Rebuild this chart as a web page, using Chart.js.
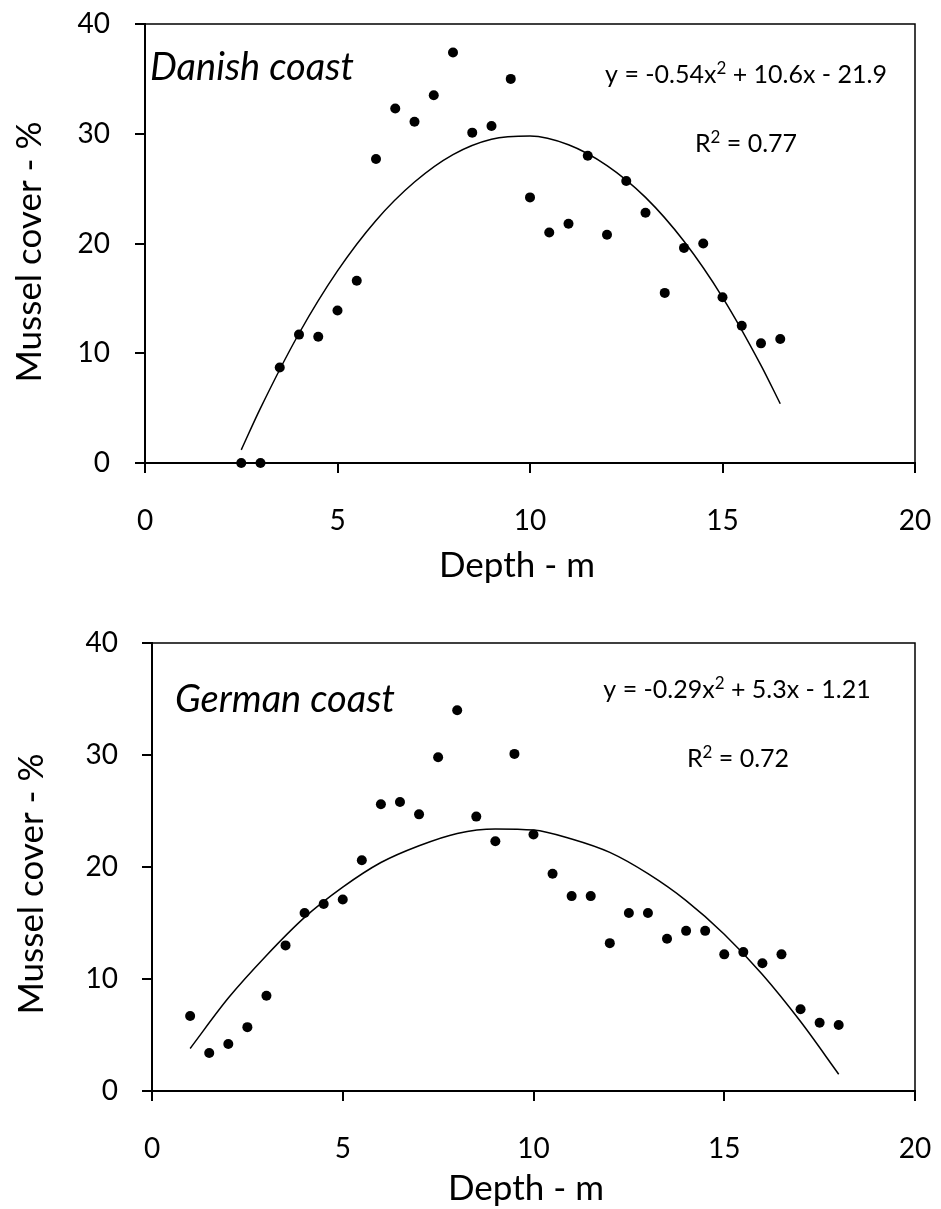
<!DOCTYPE html>
<html>
<head>
<meta charset="utf-8">
<script src="https://cdn.jsdelivr.net/npm/chart.js@4.4.1/dist/chart.umd.min.js"></script>
<style>
  html, body { margin: 0; padding: 0; background: #fff; }
  #wrap { position: relative; width: 941px; height: 1209px; }
  canvas { position: absolute; left: 0; }
  #c1 { top: 0; }
  #c2 { top: 600px; }
</style>
</head>
<body>
<div id="wrap">
  <canvas id="c1" width="941" height="600"></canvas>
  <canvas id="c2" width="941" height="609"></canvas>
</div>
<script>
// ---- Data ----
const xTicks = [0, 5, 10, 15, 20];
const yTicks = [0, 10, 20, 30, 40];

const danishDepth = [2.5, 3, 3.5, 4, 4.5, 5, 5.5, 6, 6.5, 7, 7.5, 8, 8.5, 9, 9.5, 10, 10.5, 11, 11.5, 12, 12.5, 13, 13.5, 14, 14.5, 15, 15.5, 16, 16.5];
const danishCover = [0, 0, 8.7, 11.7, 11.5, 13.9, 16.6, 27.7, 32.3, 31.1, 33.5, 37.4, 30.1, 30.7, 35.0, 24.2, 21.0, 21.8, 28.0, 20.8, 25.7, 22.8, 15.5, 19.6, 20.0, 15.1, 12.5, 10.9, 11.3];
const danishFitDepth = [2.5, 3, 4, 5, 6, 7, 8, 9, 10, 11, 12, 13, 14, 15, 16, 16.5];
const danishFitCover = [1.2, 5.0, 11.8, 17.5, 22.1, 25.6, 28.1, 29.5, 29.8, 29.0, 27.1, 24.2, 20.2, 15.1, 8.9, 5.4];

const germanDepth = [1, 1.5, 2, 2.5, 3, 3.5, 4, 4.5, 5, 5.5, 6, 6.5, 7, 7.5, 8, 8.5, 9, 9.5, 10, 10.5, 11, 11.5, 12, 12.5, 13, 13.5, 14, 14.5, 15, 15.5, 16, 16.5, 17, 17.5, 18];
const germanCover = [6.7, 3.4, 4.2, 5.7, 8.5, 13.0, 15.9, 16.7, 17.1, 20.6, 25.6, 25.8, 24.7, 29.8, 34.0, 24.5, 22.3, 30.1, 22.9, 19.4, 17.4, 17.4, 13.2, 15.9, 15.9, 13.6, 14.3, 14.3, 12.2, 12.4, 11.4, 12.2, 7.3, 6.1, 5.9];
const germanFitDepth = [1, 2, 3, 4, 5, 6, 7, 8, 9, 10, 11, 12, 13, 14, 15, 16, 17, 18];
const germanFitCover = [3.8, 8.3, 12.1, 15.5, 18.2, 20.4, 21.9, 23.0, 23.4, 23.3, 22.5, 21.3, 19.4, 17.0, 14.0, 10.4, 6.2, 1.5];

const xTitle = 'Depth - m';
const yTitle = 'Mussel cover - %';

// ---- Helpers ----
const FONT = 'Lato, "Open Sans", sans-serif';
const pts = (xs, ys) => xs.map((x, i) => ({ x: x, y: ys[i] }));

// draw text made of segments, where some are superscripts
function drawRich(ctx, segs, cx, baseline, size) {
  const supSize = Math.round(size * 0.68);
  let total = 0;
  const widths = segs.map(s => {
    ctx.font = (s.sup ? supSize : size) + 'px ' + FONT;
    const w = ctx.measureText(s.t).width;
    total += w;
    return w;
  });
  let x = cx - total / 2;
  ctx.textAlign = 'left';
  segs.forEach((s, i) => {
    ctx.font = (s.sup ? supSize : size) + 'px ' + FONT;
    ctx.fillText(s.t, x, s.sup ? baseline - size * 0.36 : baseline);
    x += widths[i];
  });
}

const panelText = {
  id: 'panelText',
  beforeDatasetsDraw(chart) {
    const { ctx, chartArea: a } = chart;
    ctx.save();
    ctx.strokeStyle = '#000';
    ctx.lineWidth = 1.5;
    ctx.beginPath();
    ctx.moveTo(a.left, a.top);
    ctx.lineTo(a.right, a.top);
    ctx.lineTo(a.right, a.bottom);
    ctx.stroke();
    ctx.restore();
  },
  afterDraw(chart, args, o) {
    const ctx = chart.ctx;
    ctx.save();
    ctx.fillStyle = '#000';
    ctx.textBaseline = 'alphabetic';
    // axis titles
    ctx.font = '35px ' + FONT;
    ctx.textAlign = 'center';
    ctx.fillText(xTitle, o.xTitle[0], o.xTitle[1]);
    ctx.save();
    ctx.translate(o.yTitle[0], o.yTitle[1]);
    ctx.rotate(-Math.PI / 2);
    ctx.fillText(yTitle, 0, 0);
    ctx.restore();
    // panel label
    ctx.font = 'italic 38px ' + FONT;
    ctx.textAlign = 'left';
    ctx.fillText(o.label, o.labelPos[0], o.labelPos[1]);
    // equation & R2
    drawRich(ctx, o.eq, o.eqPos[0], o.eqPos[1], 25);
    drawRich(ctx, o.r2, o.r2Pos[0], o.r2Pos[1], 25);
    ctx.restore();
  }
};

function makeChart(id, pointData, fitData, dims, txt) {
  return new Chart(document.getElementById(id), {
    type: 'scatter',
    data: {
      datasets: [
        {
          data: fitData,
          showLine: true,
          borderColor: '#000',
          borderWidth: 1.5,
          pointRadius: 0,
          cubicInterpolationMode: 'monotone',
          fill: false,
          order: 2
        },
        {
          data: pointData,
          showLine: false,
          backgroundColor: '#000',
          borderColor: '#000',
          borderWidth: 0,
          pointRadius: 5,
          pointHoverRadius: 5,
          clip: false,
          order: 1
        }
      ]
    },
    options: {
      responsive: false,
      animation: false,
      devicePixelRatio: 1,
      events: [],
      layout: { padding: { left: 0, right: dims.right, top: dims.top, bottom: 0 } },
      plugins: {
        legend: { display: false },
        tooltip: { enabled: false },
        panelText: txt
      },
      scales: {
        x: {
          type: 'linear',
          min: 0, max: 20,
          afterFit: (s) => { s.height = dims.xh; s.paddingLeft = 0; s.paddingRight = 0; },
          afterBuildTicks: (s) => { s.ticks = xTicks.map(v => ({ value: v })); },
          ticks: { color: '#000', font: { family: FONT, size: 28 }, padding: dims.xpad },
          grid: { display: true, drawOnChartArea: false, drawTicks: true, tickLength: 10, color: '#000', lineWidth: 2 },
          border: { display: true, color: '#000', width: 2 }
        },
        y: {
          type: 'linear',
          min: 0, max: 40,
          afterFit: (s) => { s.width = dims.yw; s.paddingTop = 0; s.paddingBottom = 0; },
          afterBuildTicks: (s) => { s.ticks = yTicks.map(v => ({ value: v })); },
          ticks: { color: '#000', font: { family: FONT, size: 28 }, padding: dims.ypad },
          grid: { display: true, drawOnChartArea: false, drawTicks: true, tickLength: 10, color: '#000', lineWidth: 2 },
          border: { display: true, color: '#000', width: 2 }
        }
      }
    },
    plugins: [panelText]
  });
}

makeChart('c1', pts(danishDepth, danishCover), pts(danishFitDepth, danishFitCover),
  { right: 26, top: 24, xh: 137, yw: 145, xpad: 31, ypad: 25 },
  { label: 'Danish coast', labelPos: [150, 80],
    eq: [{ t: 'y = -0.54x' }, { t: '2', sup: true }, { t: ' + 10.6x - 21.9' }], eqPos: [746, 83],
    r2: [{ t: 'R' }, { t: '2', sup: true }, { t: ' = 0.77' }], r2Pos: [746, 152],
    xTitle: [517, 577], yTitle: [41, 252] });

makeChart('c2', pts(germanDepth, germanCover), pts(germanFitDepth, germanFitCover),
  { right: 26, top: 43, xh: 118, yw: 152, xpad: 31, ypad: 24 },
  { label: 'German coast', labelPos: [175, 112],
    eq: [{ t: 'y = -0.29x' }, { t: '2', sup: true }, { t: ' + 5.3x - 1.21' }], eqPos: [737, 98],
    r2: [{ t: 'R' }, { t: '2', sup: true }, { t: ' = 0.72' }], r2Pos: [738, 167],
    xTitle: [526, 600], yTitle: [43, 284] });
</script>
</body>
</html>
